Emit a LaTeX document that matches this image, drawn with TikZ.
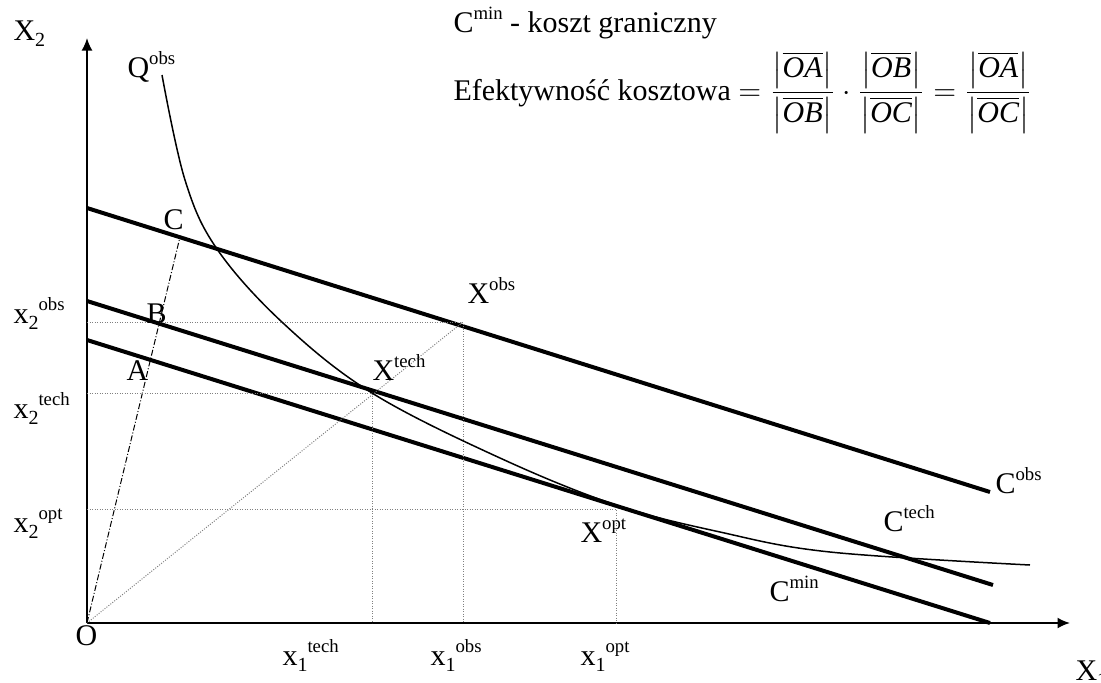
\documentclass[tikz,border=0pt]{standalone}
\usepackage{amsmath}
\usepackage{fontspec}
\setmainfont{Liberation Serif}
\usepackage{tikz}
\usetikzlibrary{arrows.meta}

\newcommand{\up}[1]{\raisebox{0.42em}{\fontsize{7.5}{8}\selectfont #1}}
\newcommand{\dn}[1]{\raisebox{-0.2em}{\fontsize{8}{8}\selectfont #1}}
\newcommand{\len}[1]{\left|\overline{\textit{#1}}\right|}

\begin{document}
\begin{tikzpicture}[x=0.4pt,y=-0.4pt,
  every node/.style={font=\fontsize{12}{14}\selectfont,inner sep=0pt},
  lbl/.style={anchor=base west},
  cost/.style={line width=1.6pt},
  guide/.style={gray,line width=0.4pt,dash pattern=on 0.4pt off 0.6pt},
  ray/.style={line width=0.4pt,dash pattern=on 2.4pt off 0.8pt on 0.4pt off 0.8pt},
  axis/.style={line width=0.8pt,-{Latex[length=5pt,width=4.4pt]}}]
  \useasboundingbox (0,0) rectangle (1101,682);
  % axes
  \coordinate (O) at (87,623);
  \coordinate (x2end) at (87,38);
  \coordinate (x1end) at (1070,623);
  \draw[axis] (O) -- (x2end);
  \draw[axis] (O) -- (x1end);
  % cost lines
  \coordinate (cobsL) at (87,208);   \coordinate (cobsR) at (990,492);
  \coordinate (ctechL) at (87,301);  \coordinate (ctechR) at (993,585);
  \coordinate (cminL) at (87,340);   \coordinate (cminR) at (990,623);
  \draw[cost] (cobsL) -- (cobsR);
  \draw[cost] (ctechL) -- (ctechR);
  \draw[cost] (cminL) -- (cminR);
  % points
  \coordinate (xobs) at (463,322);
  \coordinate (xtech) at (372,393);
  \coordinate (xopt) at (616,509);
  \coordinate (pc) at (180,237);
  \draw[guide] (O) -- (xobs);
  \draw[ray] (O) -- (pc);
  \foreach \p in {xobs,xtech,xopt}
    \draw[guide] (O |- \p) -- (\p) -- (\p |- O);
  % isoquant
  \draw[line width=0.6pt] plot[smooth,tension=0.6] coordinates {(162,75) (185,180) (217,249) (283,323) (372,393) (500,458) (616,505) (720,532) (830,552) (1030,565)};
  % labels
  \node[lbl] (lx2) at (13,40) {X\dn{2}};
  \node[lbl] (lx1) at (1075,680) {X\dn{1}};
  \node[lbl] (lq) at (127,77) {Q\up{obs}};
  \node[lbl] (lo) at (75,645) {O};
  \node[lbl] (la) at (126,380) {A};
  \node[lbl] (lb) at (146,323) {B};
  \node[lbl] (lc) at (163,229) {C};
  \node[lbl] (lxobs) at (467,303) {X\up{obs}};
  \node[lbl] (lxtech) at (372,380) {X\up{tech}};
  \node[lbl] (lxopt) at (580,542) {X\up{opt}};
  \node[lbl] (lcobs) at (995,493) {C\up{obs}};
  \node[lbl] (lctech) at (883,531) {C\up{tech}};
  \node[lbl] (lcmin) at (769,601) {C\up{min}};
  \node[lbl] (l2obs) at (13,323) {x\dn{2}\up{obs}};
  \node[lbl] (l2tech) at (13,418) {x\dn{2}\up{tech}};
  \node[lbl] (l2opt) at (13,532) {x\dn{2}\up{opt}};
  \node[lbl] (l1tech) at (282,665) {x\dn{1}\up{tech}};
  \node[lbl] (l1obs) at (430,665) {x\dn{1}\up{obs}};
  \node[lbl] (l1opt) at (580,665) {x\dn{1}\up{opt}};
  % legend
  \node[lbl] (cmin) at (453,32) {C\up{min} - koszt graniczny};
  \node[lbl] (eff) at (453,100) {Efektywność kosztowa $= \dfrac{\len{OA}}{\len{OB}}\cdot\dfrac{\len{OB}}{\len{OC}} = \dfrac{\len{OA}}{\len{OC}}$};
\end{tikzpicture}
\end{document}
